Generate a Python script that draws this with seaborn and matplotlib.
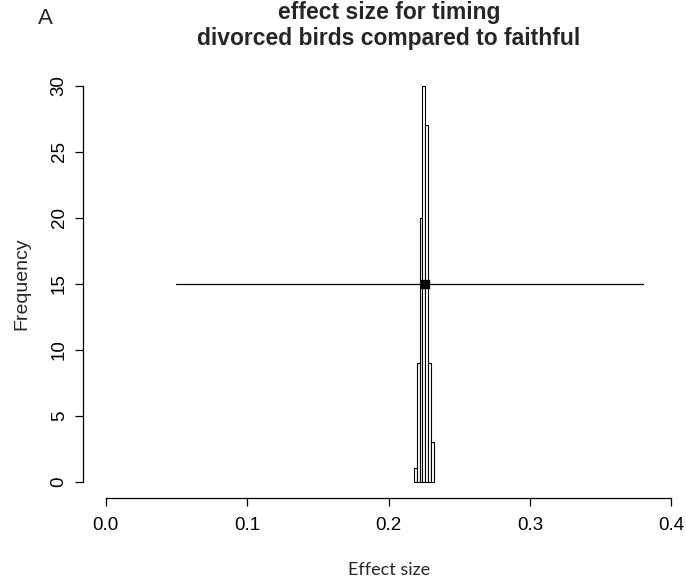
import matplotlib
matplotlib.use("Agg")
import matplotlib.pyplot as plt
import numpy as np
import pandas as pd
import seaborn as sns

# Bootstrap distribution of the effect size (binned counts)
bin_edges = [0.218, 0.220, 0.222, 0.224, 0.226, 0.228, 0.230, 0.232]
bin_counts = [1, 9, 20, 30, 27, 9, 3]

# Point estimate and interval drawn across the histogram
estimate = 0.2258
interval_low = 0.05
interval_high = 0.38
interval_y = 15

x_ticks = [0.0, 0.1, 0.2, 0.3, 0.4]
x_tick_labels = ["0.0", "0.1", "0.2", "0.3", "0.4"]
y_ticks = [0, 5, 10, 15, 20, 25, 30]

sns.set_theme(style="white")
plt.rcParams["font.family"] = ["Liberation Sans", "DejaVu Sans"]

fig = plt.figure(figsize=(6.86, 5.84), dpi=100)
ax = fig.add_axes([83 / 686, 86.5 / 584, 611 / 686, 427.6 / 584])

centers = [(a + b) / 2 for a, b in zip(bin_edges[:-1], bin_edges[1:])]
df = pd.DataFrame({"effect": centers, "n": bin_counts})
sns.histplot(data=df, x="effect", weights="n", bins=bin_edges, ax=ax,
             color="white", edgecolor="black", linewidth=0.8, alpha=1.0)

ax.plot([interval_low, interval_high], [interval_y, interval_y],
        color="black", linewidth=0.9, zorder=3)
ax.plot([estimate], [interval_y], marker="s", markersize=5.5,
        color="black", linestyle="none", zorder=4)

ax.set_xlim(-0.016, 0.416)
ax.set_ylim(-1.2, 31.2)

for side in ("top", "right"):
    ax.spines[side].set_visible(False)
ax.spines["bottom"].set_bounds(0.0, 0.4)
ax.spines["left"].set_bounds(0, 30)
for side in ("bottom", "left"):
    ax.spines[side].set_color("black")
    ax.spines[side].set_linewidth(0.9)

ax.set_xticks(x_ticks)
ax.set_xticklabels(x_tick_labels)
ax.set_yticks(y_ticks)
ax.set_yticklabels([str(v) for v in y_ticks], rotation=90, va="center")
ax.tick_params(axis="both", direction="out", length=6, width=0.9,
               colors="black", labelsize=13.5, bottom=True, left=True)
ax.tick_params(axis="x", pad=8)
ax.tick_params(axis="y", pad=5)

ax.set_xlabel("")
ax.set_ylabel("")
fig.text(22 / 686, 1 - 284 / 584, "Frequency", rotation=90,
         ha="center", va="center", fontsize=14)
fig.text(389 / 686, 1 - 570 / 584, "Effect size",
         family=["Lato", "DejaVu Sans"], ha="center", va="center", fontsize=13)

fig.text(389 / 686, 1 - 13 / 584, "effect size for timing",
         ha="center", va="center", fontsize=16.5, fontweight="bold")
fig.text(389 / 686, 1 - 38 / 584, "divorced birds compared to faithful",
         ha="center", va="center", fontsize=16.5, fontweight="bold")
fig.text(45 / 686, 1 - 19 / 584, "A", ha="center", va="center", fontsize=16)

fig.savefig("out.png", dpi=100, facecolor="white")
